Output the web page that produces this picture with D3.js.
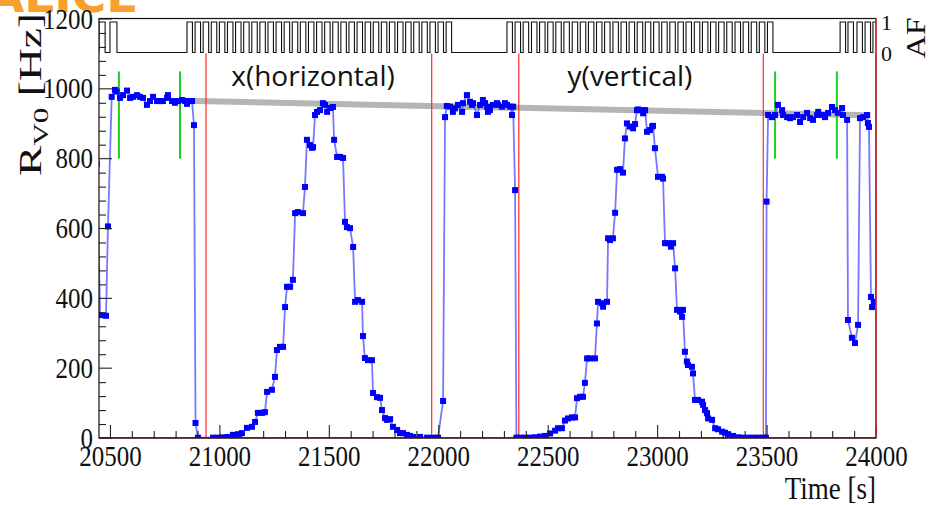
<!DOCTYPE html>
<html>
<head>
<meta charset="utf-8">
<script src="https://cdn.jsdelivr.net/npm/d3@7"></script>
<style>
  body { margin: 0; background: #fff; }
  text { font-family: "Liberation Serif", "Times New Roman", serif; }
</style>
</head>
<body>
<svg id="chart" width="933" height="505"></svg>
<script>
// V0 trigger rate during the x / y beam-separation scans
const timeSec = [
  20440, 20455, 20482, 20491, 20508, 20523, 20531, 20546, 20560, 20578, 20592, 20605, 20624, 20637, 20651,
  20669, 20683, 20697, 20715, 20729, 20742, 20761, 20765, 20784, 20797, 20811, 20829, 20843, 20852, 20857,
  20875, 20884, 20891, 20902,
  20971, 20994, 21017, 21039, 21062, 21085, 21103, 21126, 21149, 21163, 21176, 21195, 21208, 21218, 21240,
  21254, 21263, 21277, 21291, 21300, 21309, 21323, 21336, 21346, 21359, 21382, 21391, 21400, 21414, 21423,
  21428, 21437, 21446, 21460, 21473, 21483, 21492, 21506, 21519, 21524, 21538, 21551, 21565, 21574, 21583,
  21597, 21611, 21620, 21633, 21652, 21656, 21665, 21679, 21697, 21702, 21720, 21734, 21743, 21757, 21766,
  21780, 21793, 21812, 21825, 21839, 21857, 21871, 21885, 21917, 21949, 21976, 21999,
  22022, 22031, 22039, 22054, 22067, 22077, 22090, 22109, 22113, 22131, 22145, 22154, 22159, 22177, 22191,
  22204, 22214, 22223, 22227, 22236, 22250, 22268, 22273, 22291, 22305, 22314, 22328, 22337, 22342, 22351,
  22357,
  22374, 22396, 22419, 22442, 22465, 22488, 22511, 22534, 22547, 22565, 22579, 22593, 22611, 22625, 22634,
  22648, 22661, 22670, 22680, 22693, 22716, 22725, 22730, 22748, 22753, 22771, 22776, 22785, 22798, 22808,
  22817, 22830, 22844, 22853, 22862, 22876, 22890, 22899, 22908, 22913, 22931, 22936, 22945, 22954, 22967,
  22977, 22981, 22990, 23004, 23022, 23027, 23036, 23050, 23063, 23073, 23082, 23091, 23105, 23114, 23118,
  23127, 23136, 23141, 23159, 23164, 23173, 23187, 23205, 23210, 23219, 23228, 23233, 23251, 23265, 23278,
  23297, 23310, 23324, 23347, 23370, 23392, 23415, 23438, 23461, 23484, 23497,
  23500, 23507, 23525, 23539, 23552, 23571, 23575, 23594, 23607, 23621, 23639, 23653, 23667, 23685, 23699,
  23712, 23731, 23736, 23753, 23767, 23781, 23799, 23813, 23826, 23845, 23849, 23868, 23872, 23890, 23904,
  23918, 23927, 23941, 23959, 23963, 23968, 23977, 23982, 23991
];
const rateHz = [
  785, 352, 350, 606, 977, 997, 992, 974, 982, 995, 974, 977, 982, 977, 974,
  954, 965, 977, 965, 965, 965, 974, 982, 965, 960, 965, 968, 965, 957, 965,
  965, 896, 43, 1,
  1, 1, 2, 3, 9, 11, 14, 29, 32, 46, 72, 72, 74, 132, 138,
  175, 252, 261, 261, 375, 433, 433, 453, 644, 647, 644, 719, 854, 839, 831,
  833, 925, 934, 939, 959, 954, 934, 945, 948, 854, 805, 805, 802, 619, 604,
  601, 547, 390, 395, 390, 292, 229, 223, 223, 129, 117, 115, 80, 57, 52,
  54, 32, 23, 14, 14, 9, 6, 3, 3, 1, 1, 1,
  106, 919, 951, 949, 934, 944, 954, 934, 959, 982, 963, 954, 959, 925, 954,
  968, 959, 949, 934, 939, 954, 959, 954, 949, 959, 954, 949, 925, 949, 710,
  1,
  1, 1, 1, 2, 4, 6, 13, 21, 28, 28, 50, 56, 59, 59, 114,
  118, 118, 158, 228, 228, 228, 328, 390, 386, 376, 390, 572, 567, 572, 645,
  768, 770, 760, 858, 901, 892, 887, 899, 939, 941, 939, 930, 939, 877, 882,
  892, 894, 830, 748, 748, 743, 558, 558, 548, 558, 486, 367, 362, 347, 367,
  247, 219, 209, 204, 185, 109, 109, 104, 95, 80, 71, 56, 52, 28, 25,
  18, 15, 11, 6, 2, 1, 1, 1, 1, 1, 1,
  677, 925, 919, 925, 954, 939, 925, 919, 916, 919, 925, 905, 919, 931, 916,
  911, 925, 934, 925, 919, 931, 948, 939, 931, 945, 925, 911, 338, 287, 272,
  324, 916, 919, 925, 902, 891, 404, 375, 390
];

// Reference fit across the scan (start, end)
const fitTime = [20843, 23975];
const fitRate = [966, 924];

// Scan boundaries (red) and quiet reference windows (green)
const scanEdges = [20939, 21970, 22368, 23485, 24000];
const quietEdges = [20541, 20820, 23539, 23821];
const quietRange = [800, 1050];

// Acquisition flag (AF) pulses: rise / fall times
const afRise = [20450, 20500,
  20852, 20889, 20926, 20963, 21000, 21037, 21074, 21111, 21148, 21185, 21222, 21259, 21296, 21333, 21370,
  21407, 21444, 21481, 21518, 21555, 21592, 21629, 21666, 21703, 21740, 21777, 21814, 21851, 21888, 21925,
  21962, 21999, 22036,
  22314, 22351, 22388, 22426, 22463, 22500, 22537, 22574, 22612, 22649, 22686, 22723, 22760, 22798, 22835,
  22872, 22909, 22946, 22984, 23021, 23058, 23095, 23132, 23170, 23207, 23244, 23281, 23318, 23356, 23393,
  23430, 23467, 23504,
  23836, 23872, 23913, 23950, 23986];
const afFall = [20478, 20532,
  20877, 20914, 20951, 20988, 21025, 21062, 21099, 21136, 21173, 21210, 21247, 21284, 21321, 21358, 21395,
  21432, 21469, 21506, 21543, 21580, 21617, 21654, 21691, 21728, 21765, 21802, 21839, 21876, 21913, 21950,
  21987, 22024, 22061,
  22339, 22376, 22413, 22451, 22488, 22525, 22562, 22599, 22637, 22674, 22711, 22748, 22785, 22823, 22860,
  22897, 22934, 22971, 23009, 23046, 23083, 23120, 23157, 23195, 23232, 23269, 23306, 23343, 23381, 23418,
  23455, 23492, 23529,
  23861, 23897, 23938, 23975, 24011];

// Axis ticks
const xTicks = [20500, 21000, 21500, 22000, 22500, 23000, 23500, 24000];
const yTicks = [0, 200, 400, 600, 800, 1000, 1200];
const afTicks = [0, 1];

const svg = d3.select("#chart");
const L = 99, R = 876, T = 19, B = 438;

const x = d3.scaleLinear().domain([20450, 24000]).range([L, R]);
const y = d3.scaleLinear().domain([0, 1200]).range([B, T]);
const yAF = d3.scaleLinear().domain([0, 1]).range([52.5, 22]);

svg.append("defs").append("clipPath").attr("id", "plotClip")
  .append("rect").attr("x", L).attr("y", T - 1).attr("width", R - L).attr("height", B - T + 1);
svg.select("defs").append("clipPath").attr("id", "afClip")
  .append("rect").attr("x", L).attr("y", 18).attr("width", R - L).attr("height", 37);

// ALICE logo (cropped at the top edge)
svg.append("text").attr("x", -12).attr("y", 12)
  .style("font-family", "'DejaVu Sans', sans-serif").style("font-weight", "bold")
  .style("font-size", "47px").attr("fill", "#f7a12c")
  .text("ALICE");

const plot = svg.append("g").attr("clip-path", "url(#plotClip)");

// fit band
plot.append("line")
  .attr("x1", x(fitTime[0])).attr("y1", y(fitRate[0]))
  .attr("x2", x(fitTime[1])).attr("y2", y(fitRate[1]))
  .attr("stroke", "#a8a8a8").attr("stroke-width", 6).attr("stroke-opacity", 0.85);

// scan boundary markers
plot.append("line")
  .attr("x1", x.range()[0]).attr("x2", x.range()[1]).attr("y1", y(0)).attr("y2", y(0))
  .attr("stroke", "#ff2a2a").attr("stroke-width", 1.3);
plot.selectAll("line.edge").data(scanEdges).join("line").attr("class", "edge")
  .attr("x1", d => x(d)).attr("x2", d => x(d)).attr("y1", y(0)).attr("y2", y(1200))
  .attr("stroke", "#ff2a2a").attr("stroke-width", 1.2);

// quiet windows
plot.selectAll("line.quiet").data(quietEdges).join("line").attr("class", "quiet")
  .attr("x1", d => x(d)).attr("x2", d => x(d))
  .attr("y1", y(quietRange[0])).attr("y2", y(quietRange[1]))
  .attr("stroke", "#1fcc1f").attr("stroke-width", 2);

// rate series
const pts = timeSec.map((t, i) => [t, rateHz[i]]);
plot.append("path").datum(pts)
  .attr("d", d3.line().x(d => x(d[0])).y(d => y(d[1])))
  .attr("fill", "none").attr("stroke", "#5555ff").attr("stroke-width", 1.8)
  .attr("stroke-opacity", 0.8);
plot.selectAll("rect.pt").data(pts).join("rect").attr("class", "pt")
  .attr("x", d => x(d[0]) - 3).attr("y", d => y(d[1]) - 3)
  .attr("width", 6).attr("height", 6).attr("fill", "#0000ff");

// AF panel
svg.append("rect").attr("x", L).attr("y", 18).attr("width", R - L).attr("height", 35.5)
  .attr("fill", "#fff");
const afPts = [];
afRise.forEach((r, i) => {
  afPts.push([r, 0], [r, 1], [afFall[i], 1], [afFall[i], 0]);
});
svg.append("g").attr("clip-path", "url(#afClip)").append("path").datum(afPts)
  .attr("d", d3.line().x(d => x(d[0])).y(d => yAF(d[1])))
  .attr("fill", "none").attr("stroke", "#111").attr("stroke-width", 1.1);

// axes
const minor = (lo, hi, step, major) => d3.range(lo, hi + 1e-9, step).filter(v => !major.includes(v));
svg.append("g").attr("transform", `translate(0,${B})`)
  .call(d3.axisBottom(x).tickValues(minor(20500, 24000, 100, xTicks)).tickSize(-7).tickFormat(""));
const gxM = svg.append("g").attr("transform", `translate(0,${B})`)
  .call(d3.axisBottom(x).tickValues(xTicks).tickSize(-13).tickPadding(7).tickFormat(d3.format("d")));

svg.append("g").attr("transform", `translate(${L},0)`)
  .call(d3.axisLeft(y).tickValues(minor(0, 1200, 40, yTicks)).tickSize(-7).tickFormat(""));
const gyM = svg.append("g").attr("transform", `translate(${L},0)`)
  .call(d3.axisLeft(y).tickValues(yTicks).tickSize(-13).tickPadding(6).tickFormat(d3.format("d")));

svg.selectAll(".domain").remove();
svg.selectAll(".tick line").attr("stroke", "#222").attr("stroke-width", 1.1);
svg.selectAll(".tick text").attr("fill", "#111").style("font-size", "25px")
  .style("font-family", "'Liberation Serif', serif");
// digits in this figure are drawn slightly tall
gxM.selectAll(".tick text").attr("transform", "scale(1,1.2)").attr("y", 6);
gyM.selectAll(".tick text").attr("transform", "scale(1,1.2)")
  .attr("y", function () { return 0; })
  .each(function (d) { d3.select(this.parentNode).attr("transform", `translate(0,${y(d)})`); });

// AF axis labels on the right
svg.selectAll("text.af").data(afTicks).join("text").attr("class", "af")
  .attr("x", R + 5).attr("y", d => yAF(d) + 8)
  .style("font-size", "22px").attr("fill", "#111").text(d => d);

// frame
svg.append("rect").attr("x", L).attr("y", 18.5).attr("width", R - L).attr("height", B - 18.5)
  .attr("fill", "none").attr("stroke", "#111").attr("stroke-width", 1.2);
svg.append("line").attr("x1", x(scanEdges[4])).attr("x2", x(scanEdges[4]))
  .attr("y1", 18.5).attr("y2", B).attr("stroke", "#ff2a2a").attr("stroke-width", 1.2);
svg.append("line").attr("x1", L).attr("x2", R).attr("y1", B).attr("y2", B)
  .attr("stroke", "#5a1010").attr("stroke-width", 1.2);

// annotations
svg.append("text").attr("x", 313).attr("y", 86).attr("text-anchor", "middle")
  .style("font-family", "'Open Sans', sans-serif").style("font-size", "28px").attr("fill", "#111")
  .text("x(horizontal)");
svg.append("text").attr("x", 630).attr("y", 86).attr("text-anchor", "middle")
  .style("font-family", "'Open Sans', sans-serif").style("font-size", "28px").attr("fill", "#111")
  .text("y(vertical)");

// axis titles
const yt = svg.append("text").attr("transform", "translate(41,13) rotate(-90) scale(1.42,1)")
  .attr("text-anchor", "end").style("font-size", "32px").attr("fill", "#111");
yt.append("tspan").text("R");
yt.append("tspan").attr("dy", 7).style("font-size", "22px").text("V0");
yt.append("tspan").attr("dy", -7).text(" [Hz]");

svg.append("text").attr("transform", `translate(${R},499) scale(1,1.15)`).attr("text-anchor", "end")
  .style("font-size", "27px").attr("fill", "#111").text("Time [s]");

svg.append("text").attr("transform", "translate(925,38) rotate(-90) scale(1.15,1)")
  .attr("text-anchor", "middle").style("font-size", "28px").attr("fill", "#111").text("AF");
</script>
</body>
</html>
